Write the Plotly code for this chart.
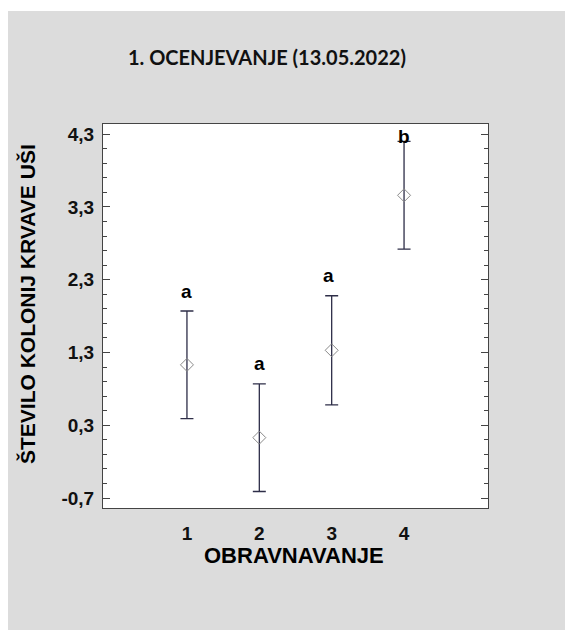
import plotly.graph_objects as go

# data
treatments = [1, 2, 3, 4]
means = [1.13, 0.13, 1.33, 3.46]
errors = [0.74, 0.74, 0.75, 0.74]
groups = ["a", "a", "a", "b"]
ytick_vals = [-0.7, 0.3, 1.3, 2.3, 3.3, 4.3]
ytick_text = ["-0,7", "0,3", "1,3", "2,3", "3,3", "4,3"]
title_text = "1. OCENJEVANJE (13.05.2022)"
xtitle = "OBRAVNAVANJE"
ytitle = "ŠTEVILO KOLONIJ KRVAVE UŠI"

OFF = 8  # page body margin
W, H = 573 - OFF, 630 - OFF
L, R, T, B = 103 - OFF, 488 - OFF, 124 - OFF, 508 - OFF  # plot area in figure pixels


def px(x):
    return (x - OFF - L) / (R - L)


def py(y):
    return (B - (y - OFF)) / (B - T)


fig = go.Figure()
fig.add_trace(go.Scatter(
    x=treatments, y=means,
    mode="markers",
    marker=dict(symbol="diamond-open", size=10, color="#8a8a8a", line=dict(width=1)),
    error_y=dict(type="data", array=errors, visible=True, color="#2e2e48",
                 thickness=1.3, width=6.5),
    showlegend=False, hoverinfo="skip",
))

YMAX = 4.44
lf = dict(family="Liberation Sans", size=19, color="#000")
annotations = []
for x, m, e, g in zip(treatments, means, errors, groups):
    top = m + e
    if top + 0.3 > YMAX - 0.1:
        annotations.append(dict(x=x, y=4.27, xref="x", yref="y", text="<b>" + g + "</b>",
                                showarrow=False, font=lf, yanchor="middle"))
    else:
        annotations.append(dict(x=x - (0.05 if x == 3 else 0), y=top, xref="x", yref="y",
                                text="<b>" + g + "</b>", showarrow=False, yshift=20,
                                font=lf, yanchor="middle"))

annotations.append(dict(x=px(267), y=py(57), xref="paper", yref="paper", text="<b>" + title_text + "</b>",
                        showarrow=False, xanchor="center", yanchor="middle",
                        font=dict(family="Lato", size=20, color="#111")))
annotations.append(dict(x=px(294), y=py(555), xref="paper", yref="paper", text="<b>" + xtitle + "</b>",
                        showarrow=False, xanchor="center", yanchor="middle",
                        font=dict(family="Liberation Sans", size=22, color="#000")))
annotations.append(dict(x=px(27), y=py(304), xref="paper", yref="paper", text="<b>" + ytitle + "</b>",
                        showarrow=False, xanchor="center", yanchor="middle", textangle=-90,
                        font=dict(family="Liberation Sans", size=21, color="#000")))

shapes = [
    dict(type="rect", xref="paper", yref="paper", x0=px(0), x1=px(600), y0=py(11), y1=py(0),
         fillcolor="white", line=dict(width=0), layer="below"),
]

fig.update_layout(
    width=W, height=H,
    margin=dict(l=L, r=W - R, t=T, b=H - B, pad=0),
    paper_bgcolor="#dcdcdc", plot_bgcolor="white",
    annotations=annotations, shapes=shapes,
)
fig.update_xaxes(
    range=[-0.16, 5.16], tickvals=treatments, ticktext=["<b>" + str(t) + "</b>" for t in treatments],
    showgrid=False, zeroline=False, showline=True, linecolor="#444", linewidth=1, mirror=True,
    ticks="", ticklabelstandoff=8, tickfont=dict(family="Liberation Sans", size=19, color="#111"),
)
fig.update_yaxes(
    range=[-0.837, YMAX], tickvals=ytick_vals, ticktext=["<b>" + t + "</b>" for t in ytick_text],
    showgrid=False, zeroline=False, showline=True, linecolor="#444", linewidth=1, mirror="ticks",
    ticks="inside", ticklen=7, tickcolor="#444", tickwidth=1,
    minor=dict(tick0=-0.7, dtick=0.2, ticks="inside", ticklen=4, tickcolor="#444", tickwidth=1, showgrid=False),
    ticklabelstandoff=4,
    tickfont=dict(family="Liberation Sans", size=19, color="#111"),
)

fig.write_html("out.html")
